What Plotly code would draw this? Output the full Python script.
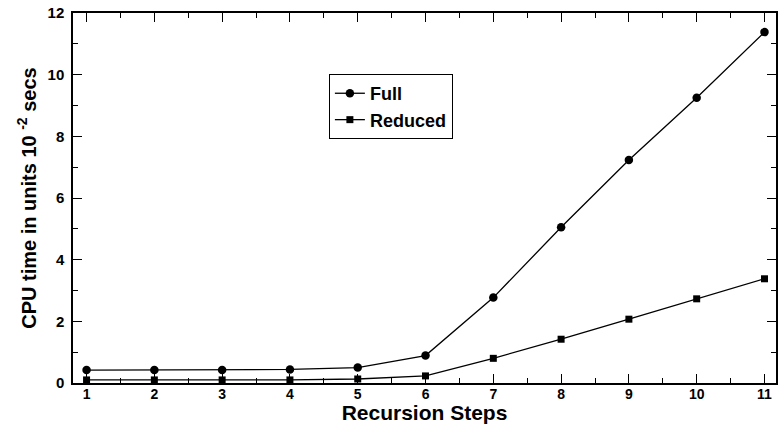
import plotly.graph_objects as go

steps = [1, 2, 3, 4, 5, 6, 7, 8, 9, 10, 11]
full = [0.42, 0.42, 0.42, 0.44, 0.50, 0.89, 2.77, 5.05, 7.23, 9.25, 11.38]
reduced = [0.10, 0.10, 0.10, 0.10, 0.13, 0.23, 0.80, 1.42, 2.07, 2.73, 3.38]
x_ticks = [1, 2, 3, 4, 5, 6, 7, 8, 9, 10, 11]
y_ticks = [0, 2, 4, 6, 8, 10, 12]

FONT = "Liberation Sans, Arial, Helvetica, sans-serif"

fig = go.Figure()
fig.add_trace(go.Scatter(x=steps, y=full, mode="lines+markers", name="Full",
                         line=dict(color="black", width=1.3),
                         marker=dict(symbol="circle", size=8.5, color="black")))
fig.add_trace(go.Scatter(x=steps, y=reduced, mode="lines+markers", name="Reduced",
                         line=dict(color="black", width=1.3),
                         marker=dict(symbol="square", size=7, color="black")))

axis_common = dict(showline=True, linecolor="black", linewidth=1.5, mirror="ticks",
                   ticks="inside", ticklen=9, tickwidth=1.3, tickcolor="black",
                   showgrid=False, zeroline=False)

fig.update_layout(
    width=780, height=424,
    margin=dict(l=73, r=2, t=13, b=41),
    paper_bgcolor="white", plot_bgcolor="white",
    font=dict(family=FONT, color="black"),
    xaxis=dict(range=[0.8, 11.17], tickmode="array", tickvals=x_ticks,
               minor=dict(tickvals=[s + 0.5 for s in x_ticks[:-1]], ticks="inside",
                          ticklen=5, tickcolor="black", tickwidth=1.3),
               ticklabelstandoff=-3,
               tickfont=dict(family=FONT, size=14, color="black", weight="bold"),
               title=dict(text="Recursion Steps", standoff=5,
                          font=dict(family=FONT, size=21, color="black", weight="bold")),
               **axis_common),
    yaxis=dict(range=[0, 12], tickmode="array", tickvals=y_ticks,
               minor=dict(tickvals=[1, 3, 5, 7, 9, 11], ticks="inside",
                          ticklen=5, tickcolor="black", tickwidth=1.3),
               ticklabelstandoff=4,
               tickfont=dict(family=FONT, size=15, color="black", weight="bold"),
               title=dict(text="CPU time in units 10 <sup>-2</sup> secs", standoff=6,
                          font=dict(family=FONT, size=20, color="black", weight="bold")),
               **axis_common),
    legend=dict(x=0.364, y=0.835, xanchor="left", yanchor="top",
                bordercolor="black", borderwidth=1, bgcolor="white",
                font=dict(family=FONT, size=18, color="black", weight="bold"),
                tracegroupgap=0, itemwidth=30),
    showlegend=True,
)

fig.write_html("out.html")
